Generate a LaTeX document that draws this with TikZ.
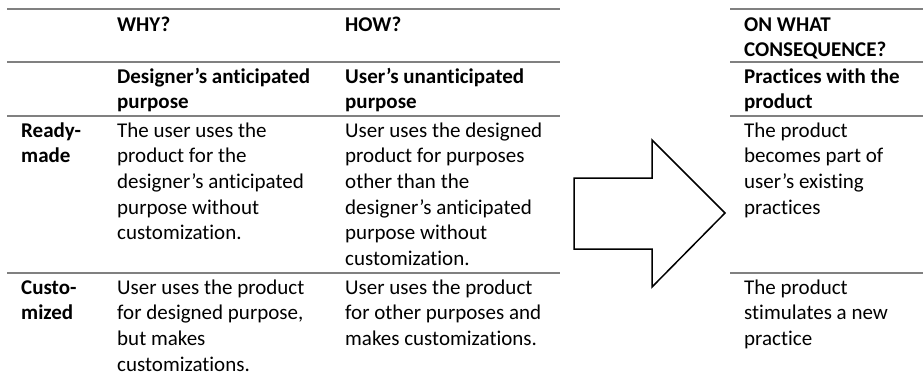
\documentclass[tikz,border=0pt]{standalone}
\usepackage{fontspec}
\setmainfont{Carlito}[Ligatures=NoCommon]
\newcommand{\celltext}[1]{\begin{tabular}[t]{@{}l@{}}#1\end{tabular}}
\tikzset{
  rule/.style={draw=black!50, line width=1.6pt},
  cell/.style={anchor=base west, inner sep=0pt, font=\fontsize{21}{25.7}\selectfont},
  hcell/.style={cell, font=\fontsize{21}{25.7}\selectfont\bfseries},
  bigarrow/.style={draw=black, line width=1.5pt, line join=miter, fill=white}
}
\begin{document}
\begin{tikzpicture}[x=1pt,y=-1pt]
\useasboundingbox (0,0) rectangle (923,376);
% left table rules
\draw[rule] (7,9) -- (560,9);
\draw[rule] (7,62) -- (560,62);
\draw[rule] (7,116) -- (560,116);
\draw[rule] (7,273) -- (560,273);
% right table rules
\draw[rule] (730,9) -- (923,9);
\draw[rule] (730,62) -- (923,62);
\draw[rule] (730,116) -- (923,116);
\draw[rule] (730,273) -- (923,273);
% headers
\node[hcell] (why) at (117,31) {WHY?};
\node[hcell] (how) at (345,31) {HOW?};
\node[hcell] (onwhat) at (744,31) {\celltext{ON WHAT\\CONSEQUENCE?}};
\node[hcell] (dap) at (117,83) {\celltext{Designer’s anticipated\\purpose}};
\node[hcell] (uup) at (345,83) {\celltext{User’s unanticipated\\purpose}};
\node[hcell] (prac) at (744,83) {\celltext{Practices with the\\product}};
% row labels
\node[hcell] (ready) at (21,137) {\celltext{Ready-\\made}};
\node[hcell] (cust) at (21,294) {\celltext{Custo-\\mized}};
% body cells
\node[cell] (c11) at (117,137) {\celltext{The user uses the\\product for the\\designer’s anticipated\\purpose without\\customization.}};
\node[cell] (c12) at (345,137) {\celltext{User uses the designed\\product for purposes\\other than the\\designer’s anticipated\\purpose without\\customization.}};
\node[cell] (c21) at (117,294) {\celltext{User uses the product\\for designed purpose,\\but makes\\customizations.}};
\node[cell] (c22) at (345,294) {\celltext{User uses the product\\for other purposes and\\makes customizations.}};
\node[cell] (r1) at (744,137) {\celltext{The product\\becomes part of\\user’s existing\\practices}};
\node[cell] (r2) at (744,294) {\celltext{The product\\stimulates a new\\practice}};
% arrow
\draw[bigarrow] (574,178) -- (652,178) -- (652,140) -- (725,213) -- (652,287) -- (652,249) -- (574,249) -- cycle;
\end{tikzpicture}
\end{document}
